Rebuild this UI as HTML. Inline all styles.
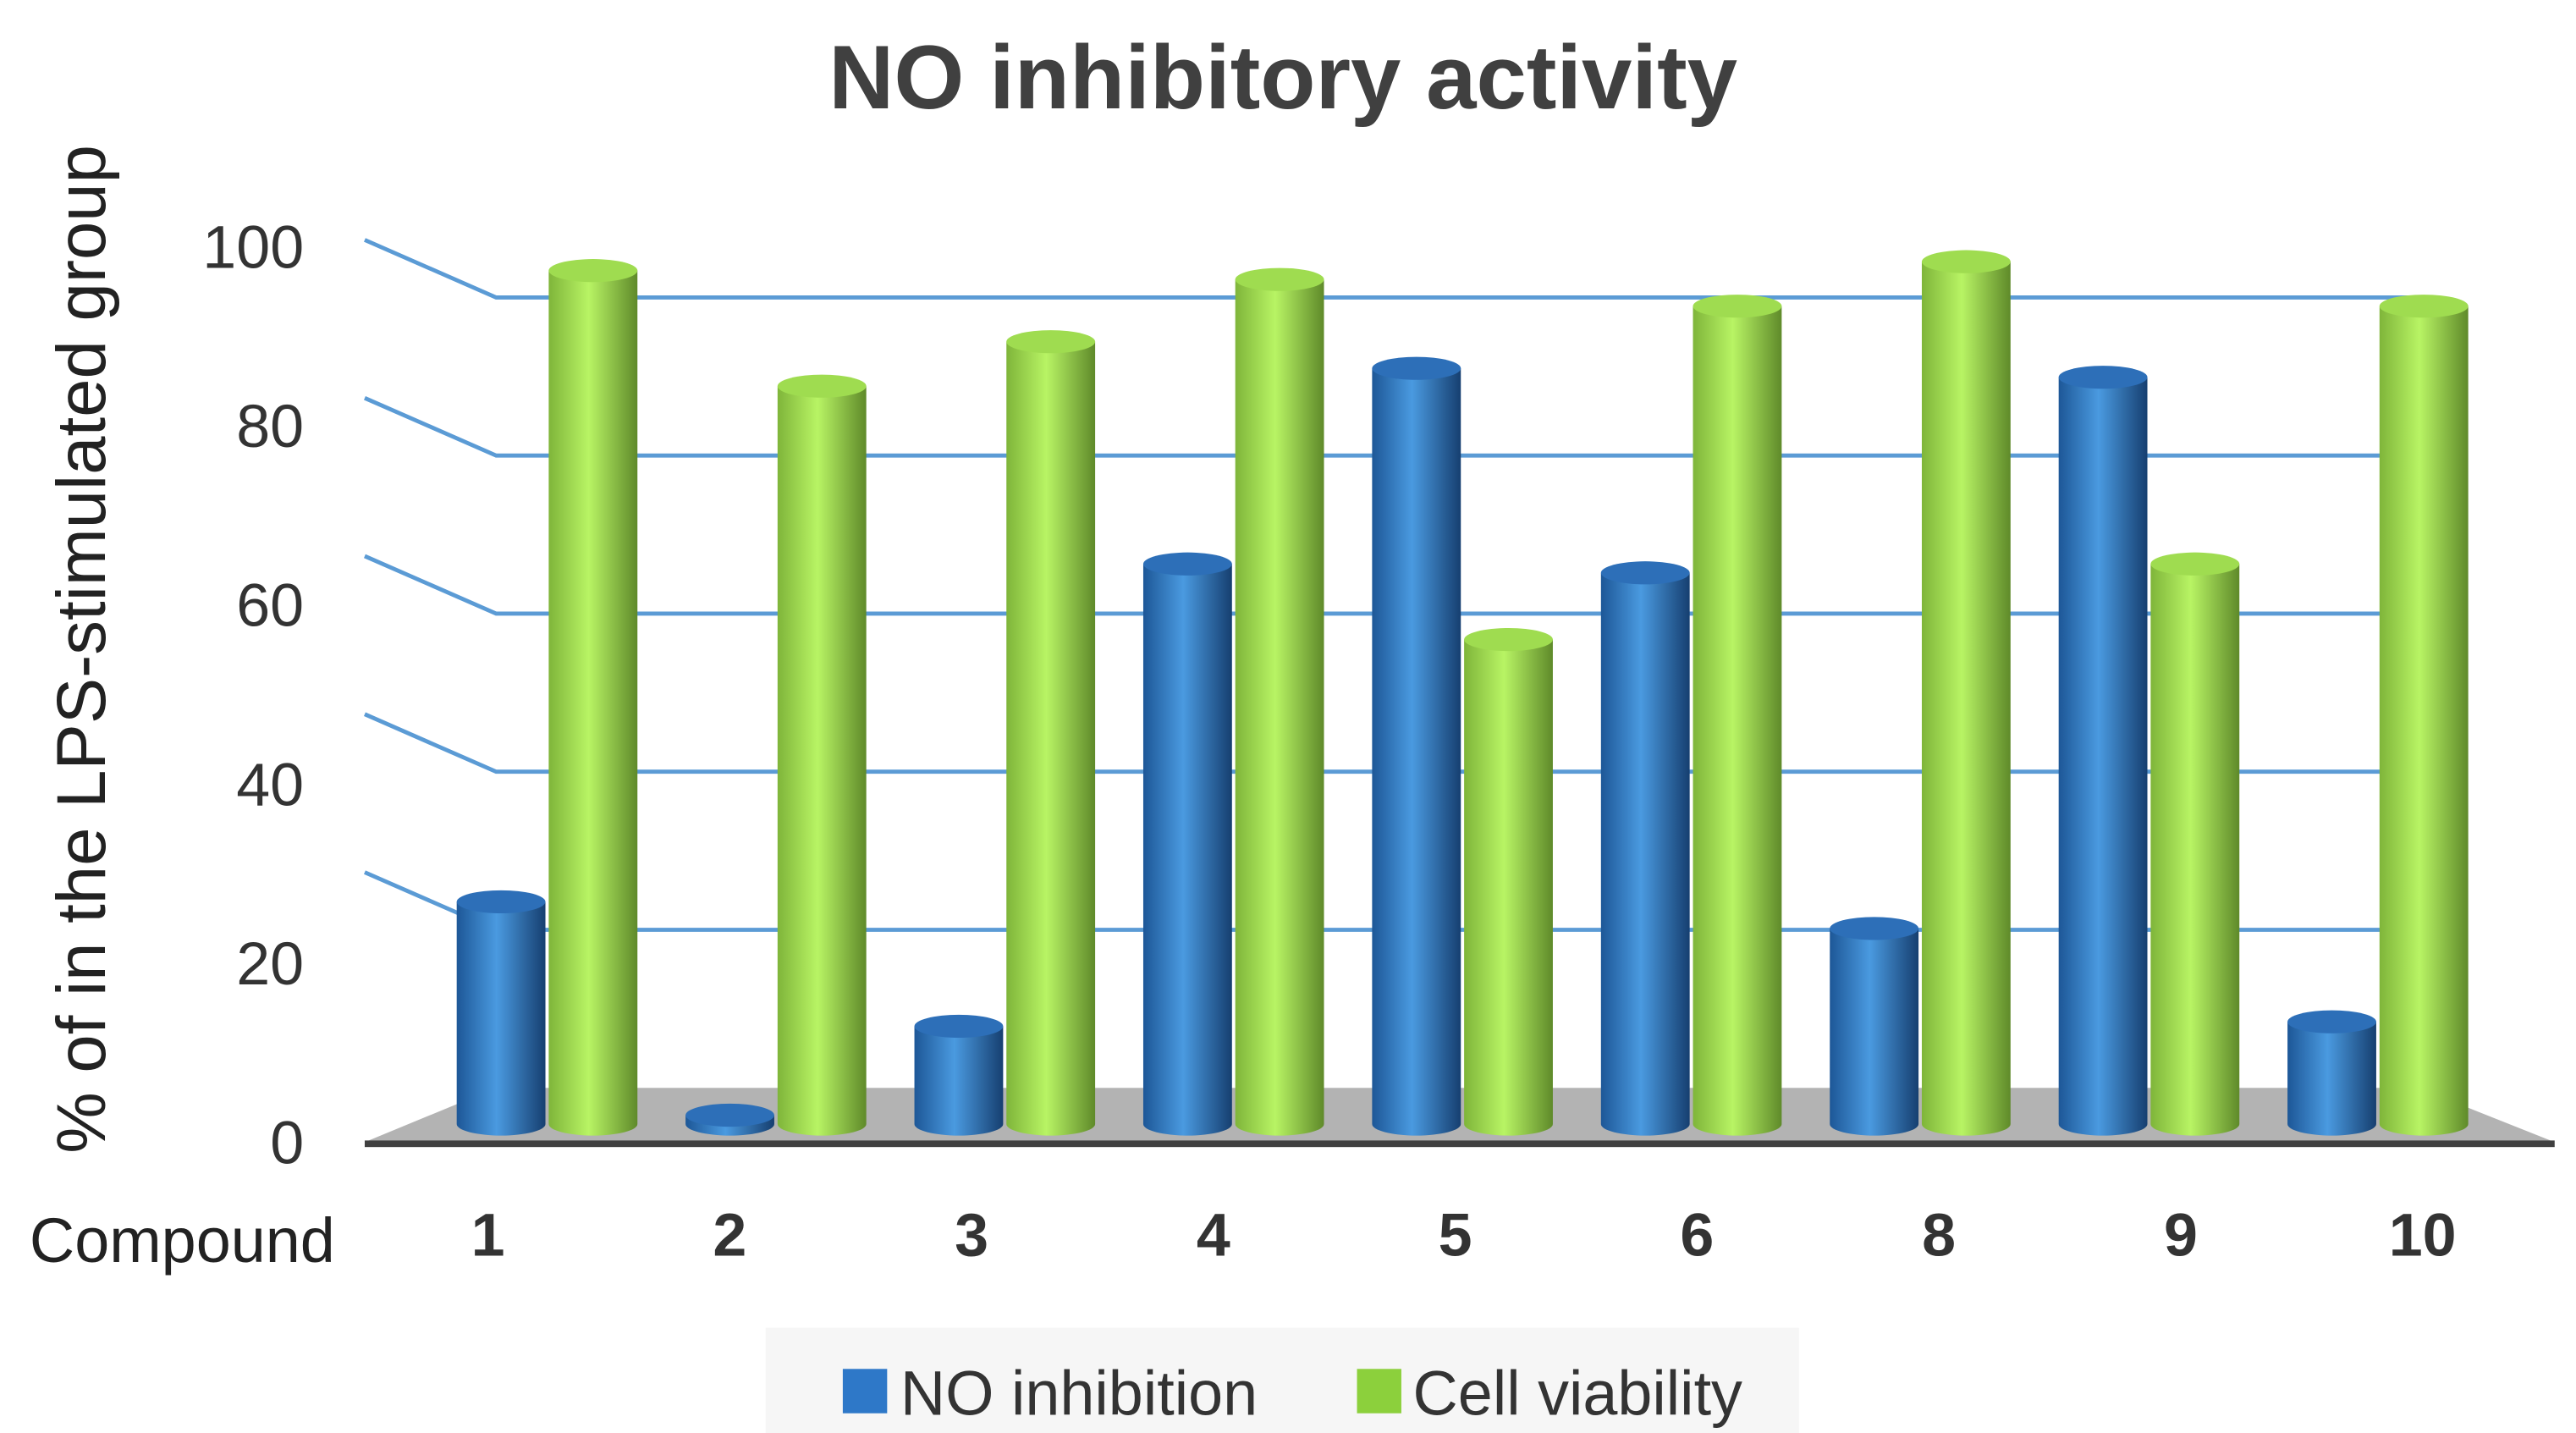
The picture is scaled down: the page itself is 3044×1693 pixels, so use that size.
<!DOCTYPE html>
<html><head><meta charset="utf-8"><style>
html,body{margin:0;padding:0;background:#fff;}
svg{display:block;}
text{font-family:"Liberation Sans",sans-serif;}
</style></head><body>
<svg id="chart" width="3044" height="1693" viewBox="0 0 1568 872" preserveAspectRatio="none">
<defs>
<linearGradient id="gb" x1="0" x2="1"><stop offset="0" stop-color="#1d5797"/><stop offset="0.45" stop-color="#4a9ae0"/><stop offset="1" stop-color="#163f70"/></linearGradient>
<linearGradient id="gg" x1="0" x2="1"><stop offset="0" stop-color="#7fb53a"/><stop offset="0.45" stop-color="#b8f464"/><stop offset="1" stop-color="#5f8a2a"/></linearGradient>
</defs>
<text x="781" y="66" text-anchor="middle" font-size="55" font-weight="bold" fill="#404040">NO inhibitory activity</text>
<g id="grid"></g>
<polygon points="302,662 1472,662 1555,695 222,695" fill="#b3b3b3"/>
<rect x="222" y="694" width="1333" height="4" fill="#404040"/>
<g id="bars"></g>
<g id="xlabels"></g>
<text x="18" y="768" font-size="38" fill="#222">Compound</text>
<text transform="translate(64,395) rotate(-90)" text-anchor="middle" font-size="42" fill="#222">% of in the LPS-stimulated group</text>
<g>
<rect x="466" y="808" width="629" height="64" fill="#f6f6f6"/>
<rect x="513" y="833" width="27" height="27" fill="#2e78c8"/>
<text x="548" y="861" font-size="38" fill="#333">NO inhibition</text>
<rect x="826" y="833" width="27" height="27" fill="#8cd03c"/>
<text x="860" y="861" font-size="38" fill="#333">Cell viability</text>
</g>
</svg>
<script>
const categories = ["1","2","3","4","5","6","8","9","10"];
const noInhibition = [25, 1, 11, 63, 85, 62, 22, 84, 11.5];
const cellViability = [96, 83, 88, 95, 54.5, 92, 97, 63, 92];
const yTicks = [0, 20, 40, 60, 80, 100];
const NS = "http://www.w3.org/2000/svg";
function mk(tag, attrs, parent){const e=document.createElementNS(NS,tag);for(const k in attrs)e.setAttribute(k,attrs[k]);parent.appendChild(e);return e;}
const wallY = v => 662 - v * 4.81;
const frontY = v => 695 - v * 5.45;
const barY = v => 684 - v * 5.41;
const barX = (i, s) => 305 + i * 139.3 + s * 56;
const labelX = i => 297 + i * 147.2;
const grid = document.getElementById('grid');
yTicks.forEach(v => {
  if (v > 0) {
    const l = mk('polyline', {points:`222,${wallY(v)-35} 302,${wallY(v)} 1472,${wallY(v)}`, fill:'none', stroke:'#5b9bd5', 'stroke-width':2.5}, grid);
    
    
  }
  const t = mk('text', {x:185, y:frontY(v)+13, 'text-anchor':'end', 'font-size':37, fill:'#333'}, grid);
  t.textContent = v;
  
  
});
const bars = document.getElementById('bars');
function cyl(cx, v, fill, topFill, name){
  const g = mk('g', {}, bars);
  
  
  const rx = 27, ry = 7, top = barY(v), bot = 684;
  mk('path', {d:`M${cx-rx},${top} L${cx-rx},${bot} A${rx},${ry} 0 0 0 ${cx+rx},${bot} L${cx+rx},${top} Z`, fill:fill}, g);
  mk('ellipse', {cx:cx, cy:top, rx:rx, ry:ry, fill:topFill}, g);
}
categories.forEach((c, i) => {
  cyl(barX(i,0), noInhibition[i], 'url(#gb)', '#2d6fb8', 'bar-no-inhibition-' + c);
  cyl(barX(i,1), cellViability[i], 'url(#gg)', '#9fdc50', 'bar-cell-viability-' + c);
  const t = mk('text', {x:labelX(i), y:764, 'text-anchor':'middle', 'font-size':37, 'font-weight':'bold', fill:'#333'}, document.getElementById('xlabels'));
  t.textContent = c;
  
  
});
</script>
</body></html>
